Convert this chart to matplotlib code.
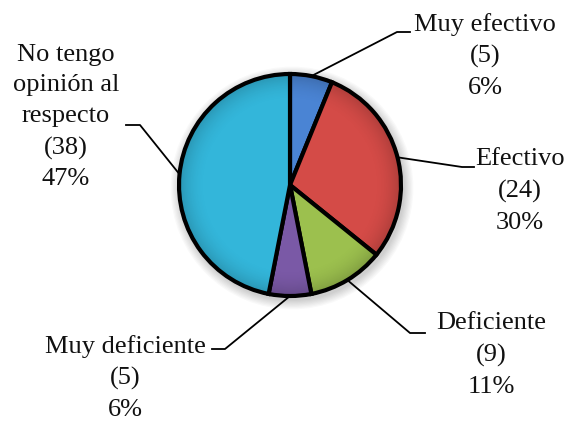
import matplotlib
matplotlib.use("Agg")
import matplotlib.pyplot as plt
import numpy as np
from matplotlib.patches import Circle

labels = ["Muy efectivo", "Efectivo", "Deficiente", "Muy deficiente",
          "No tengo\nopinión al\nrespecto"]
counts = [5, 24, 9, 5, 38]
colors = ["#4A84D4", "#D44B47", "#9CC04E", "#7A59A6", "#33B6DA"]

# layout in pixels (y down)
cx, cy, r = 290, 185, 111
text_pos = [(485, 56), (520, 191), (491, 355), (125, 378), (66, 117)]
elbows = [((397, 32), (410, 32)), ((462, 167), (474, 167)),
          ((410, 333), (425, 333)), ((225, 349), (212, 349)),
          ((140, 125), (126, 125))]

fig = plt.figure(figsize=(5.69, 4.21), dpi=100)
ax = fig.add_axes([0, 0, 1, 1])

# soft shadow
for k in range(8):
    ax.add_patch(Circle((cx + 2, cy + 3), r + 2 + k * 1.2, color="black",
                        alpha=0.025, lw=0, zorder=0))

wedges, _ = ax.pie(counts, colors=colors, startangle=-90, counterclock=True,
                   center=(cx, cy), radius=r, frame=True,
                   wedgeprops=dict(edgecolor="black", linewidth=3))

# subtle bevel: darker towards the rim
yy, xx = np.mgrid[-1:1:300j, -1:1:300j]
rr = np.sqrt(xx ** 2 + yy ** 2)
shade = np.zeros((300, 300, 4))
shade[..., 3] = np.clip((rr - 0.75) / 0.25, 0, 1) ** 2 * 0.18
im = ax.imshow(shade, extent=(cx - r, cx + r, cy + r, cy - r), zorder=3)
im.set_clip_path(Circle((cx, cy), r, transform=ax.transData))

ax.set_xlim(0, 569)
ax.set_ylim(421, 0)
ax.set_aspect("auto")
ax.axis("off")

total = sum(counts)
cum = np.cumsum(counts)
for i, v in enumerate(counts):
    theta = np.deg2rad(-90 + 360 * (cum[i] - v / 2) / total)
    px, py = cx + r * np.cos(theta), cy + r * np.sin(theta)
    (ex, ey), (fx, fy) = elbows[i]
    ax.plot([px, ex, fx], [py, ey, fy], color="black", lw=1.3, zorder=5)
    pct = round(100 * v / total)
    ax.text(text_pos[i][0], text_pos[i][1], f"{labels[i]}\n({v})\n{pct}%",
            ha="center", va="center", fontsize=19, family="Liberation Serif",
            linespacing=1.52, color="#111111")

fig.savefig("out.png", dpi=100)
